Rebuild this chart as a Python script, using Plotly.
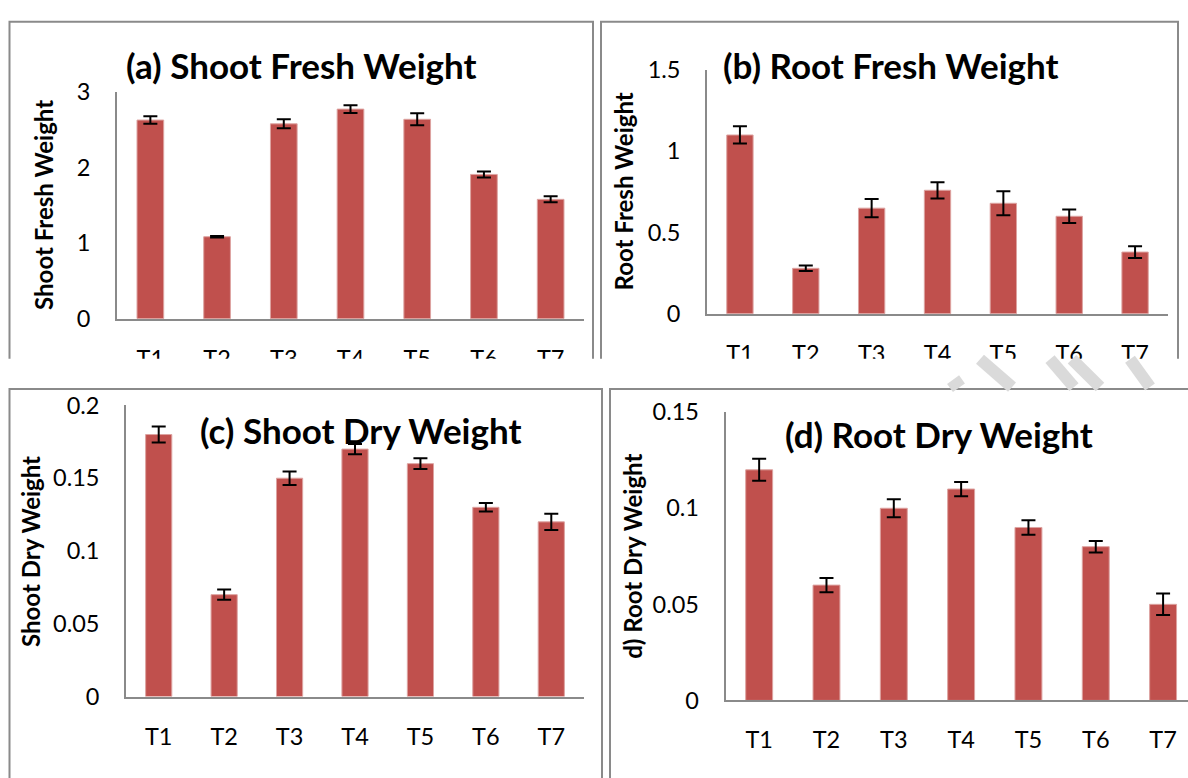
import plotly.graph_objects as go

W, H = 1188, 778

categories = ["T1", "T2", "T3", "T4", "T5", "T6", "T7"]

shoot_fresh = [2.63, 1.085, 2.58, 2.775, 2.64, 1.91, 1.58]
shoot_fresh_err = [0.05, 0.01, 0.06, 0.05, 0.08, 0.04, 0.04]

root_fresh = [1.10, 0.28, 0.65, 0.76, 0.68, 0.60, 0.38]
root_fresh_err = [0.053, 0.017, 0.056, 0.05, 0.074, 0.042, 0.036]

shoot_dry = [0.18, 0.07, 0.15, 0.17, 0.16, 0.13, 0.12]
shoot_dry_err = [0.0055, 0.0035, 0.0046, 0.0035, 0.0037, 0.0029, 0.0056]

root_dry = [0.12, 0.06, 0.10, 0.11, 0.09, 0.08, 0.05]
root_dry_err = [0.0057, 0.0037, 0.0047, 0.0037, 0.0038, 0.0030, 0.0056]

panel_titles = ["(a) Shoot Fresh Weight", "(b) Root Fresh Weight",
                "(c) Shoot Dry Weight", "(d) Root Dry Weight"]
y_titles = ["Shoot Fresh Weight", "Root Fresh Weight",
            "Shoot Dry Weight", "d) Root Dry Weight"]
y_ranges = [[0, 3], [0, 1.5], [0, 0.2], [0, 0.15]]
y_dticks = [1, 0.5, 0.05, 0.05]

BAR = "#C0504D"
BAR_EDGE = "#DDA3A1"
GRAY = "#8a8a8a"
FONT = "Lato, Carlito, Calibri, sans-serif"

def px(x):
    return x / W

def py(y):
    return 1 - y / H

# panel geometry in pixels: plot x0, x1, y top, y bottom, x range end
geom = [
    (117, 584, 80, 315, 6.5),
    (707, 1168, 57, 310, 6.5),
    (126, 584, 405, 707, 6.5),
    (725.5, 1188, 412, 711, 6.37),
]
title_pos = [(301, 52), (891, 52), (361, 430), (939, 435)]
ytitle_pos = [(44, 197), (623, 183), (31, 557), (633, 562)]

series = [(shoot_fresh, shoot_fresh_err), (root_fresh, root_fresh_err),
          (shoot_dry, shoot_dry_err), (root_dry, root_dry_err)]

fig = go.Figure()
layout = dict(
    width=W, height=H,
    margin=dict(l=0, r=0, t=0, b=0),
    paper_bgcolor="white", plot_bgcolor="white",
    showlegend=False,
    font=dict(family=FONT, color="black"),
)
annotations = []
for i, ((vals, errs), g) in enumerate(zip(series, geom)):
    n = "" if i == 0 else str(i + 1)
    x0, x1, yt, yb, xend = g
    fig.add_trace(go.Bar(
        x=categories, y=vals, width=0.4,
        marker=dict(color=BAR, line=dict(width=1, color=BAR_EDGE)),
        error_y=dict(type="data", array=errs, color="black", thickness=2, width=7),
        xaxis="x" + n, yaxis="y" + n,
    ))
    layout["xaxis" + n] = dict(
        domain=[px(x0), px(x1)], anchor="y" + n,
        range=[-0.5, xend], type="category",
        showline=True, linecolor=GRAY, linewidth=1.7,
        showgrid=False, zeroline=False, ticks="",
        tickfont=dict(size=23.5, family=FONT, color="black"),
        ticklabelstandoff=18,
    )
    layout["yaxis" + n] = dict(
        domain=[py(yb), py(yt)], anchor="x" + n,
        range=y_ranges[i], dtick=y_dticks[i], tick0=0,
        showline=True, linecolor=GRAY, linewidth=1.7,
        showgrid=False, zeroline=False, ticks="",
        tickfont=dict(size=23.5, family=FONT, color="black"),
        ticklabelstandoff=20,
    )
    tx, ty = title_pos[i]
    annotations.append(dict(
        text="<b>%s</b>" % panel_titles[i], x=px(tx), y=py(ty),
        xref="paper", yref="paper", showarrow=False,
        xanchor="center", yanchor="middle",
        font=dict(size=35, family=FONT, color="black"),
    ))
    yx, yy = ytitle_pos[i]
    annotations.append(dict(
        text="<b>%s</b>" % y_titles[i], x=px(yx), y=py(yy),
        xref="paper", yref="paper", showarrow=False, textangle=-90,
        xanchor="center", yanchor="middle",
        font=dict(size=24, family=FONT, color="black"),
    ))

shapes = []
# panel frames
borders = [(9.5, 593, 7, 370), (601, 1178, 7, 370), (9.5, 602, 388, 800), (610, 1200, 388, 800)]
for (bx0, bx1, by0, by1) in borders:
    shapes.append(dict(type="rect", xref="paper", yref="paper",
                       x0=px(bx0), x1=px(bx1), y0=py(by1), y1=py(by0),
                       line=dict(color=GRAY, width=2), fillcolor="rgba(0,0,0,0)",
                       layer="below"))
# white strip cropping the bottom of the top panels
shapes.append(dict(type="rect", xref="paper", yref="paper",
                   x0=0, x1=1, y0=py(387), y1=py(356.5),
                   line=dict(width=0), fillcolor="white", layer="above"))
# faint watermark stripes visible in the gap
for (sx0, sy0, sx1, sy1) in [(980, 357, 1012, 386), (1050, 357, 1074, 386),
                             (1072, 357, 1100, 386), (1130, 357, 1150, 386)]:
    shapes.append(dict(type="line", xref="paper", yref="paper",
                       x0=px(sx0), y0=py(sy0), x1=px(sx1), y1=py(sy1),
                       line=dict(color="#dadada", width=12), layer="above"))
shapes.append(dict(type="line", xref="paper", yref="paper",
                   x0=px(950), y0=py(387), x1=px(962), y1=py(378),
                   line=dict(color="#dadada", width=10), layer="above"))

layout["annotations"] = annotations
layout["shapes"] = shapes
fig.update_layout(**layout)
fig.write_html(
    "out.html",
    config={"displayModeBar": False},
    post_script="document.body.style.margin='0';document.body.style.padding='0';document.body.style.overflow='hidden';",
)
